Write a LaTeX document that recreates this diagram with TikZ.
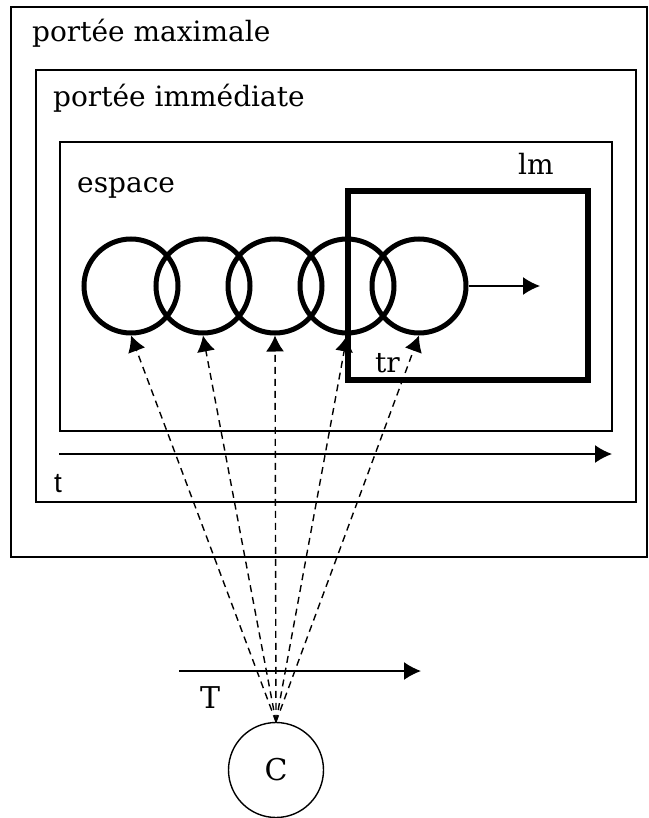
\documentclass[tikz,border=0pt]{standalone}
\usepackage{fontspec}
\setmainfont{DejaVu Serif}
\newfontfamily\sansfont{Liberation Sans}
\usetikzlibrary{arrows.meta}

\begin{document}
\begin{tikzpicture}[x=1pt, y=-1pt,
    every node/.style={inner sep=0pt, font=\fontsize{28}{30}\selectfont},
    cadre/.style={draw, line width=1.8pt},
    epais/.style={draw, line width=5pt},
    fleche/.style={line width=1.6pt, -{Latex[length=17pt,width=18pt]}},
    visee/.style={dashed, dash pattern=on 7pt off 5pt, line width=1.4pt, -{Latex[length=16pt,width=18pt]}}]
        \useasboundingbox (0,0) rectangle (648,818);

        % Define the frames
        \draw[cadre] (11,7) rectangle (647,557);
        \draw[cadre] (36,70) rectangle (636,502);
        \draw[cadre] (60,142) rectangle (612,431);
        \draw[epais, line width=6pt] (348,191) rectangle (588,380);

        % Define the labels
        \node[anchor=base west] (pmax) at (32,42) {portée maximale};
        \node[anchor=base west] (pimm) at (53,107) {portée immédiate};
        \node[anchor=base west] (esp) at (77,193) {espace};
        \node[anchor=base west] (lm) at (518,175) {lm};
        \node[anchor=base west] (tr) at (375,372) {tr};
        \node[anchor=base west, font=\sansfont\fontsize{28}{30}\selectfont] (t) at (54,492) {t};
        \node[anchor=base west, font=\fontsize{30}{32}\selectfont] (T) at (200,708) {T};

        % Define the circles
        \foreach \i/\x in {1/131, 2/203, 3/275, 4/347, 5/419}
            \node[circle, epais, minimum size=94pt] (c\i) at (\x,286) {};
        \node[circle, draw, line width=1.4pt, minimum size=95pt, font=\fontsize{30}{32}\selectfont] (C) at (276,770) {C};

        % Define the axes
        \coordinate (t0) at (59,454);
        \coordinate (t1) at (612,454);
        \coordinate (T0) at (179,671);
        \coordinate (T1) at (421,671);
        \coordinate (m1) at (540,286);
        \draw[fleche] (t0) -- (t1);
        \draw[fleche] (T0) -- (T1);
        \draw[fleche] (c5.east) -- (m1);

        \begin{scope}[every node/.style={auto, draw=none}]
        \foreach \i in {1,...,5}
            \draw[visee] (C.north) -- (c\i.south);
        \end{scope}

    \end{tikzpicture}
\end{document}
